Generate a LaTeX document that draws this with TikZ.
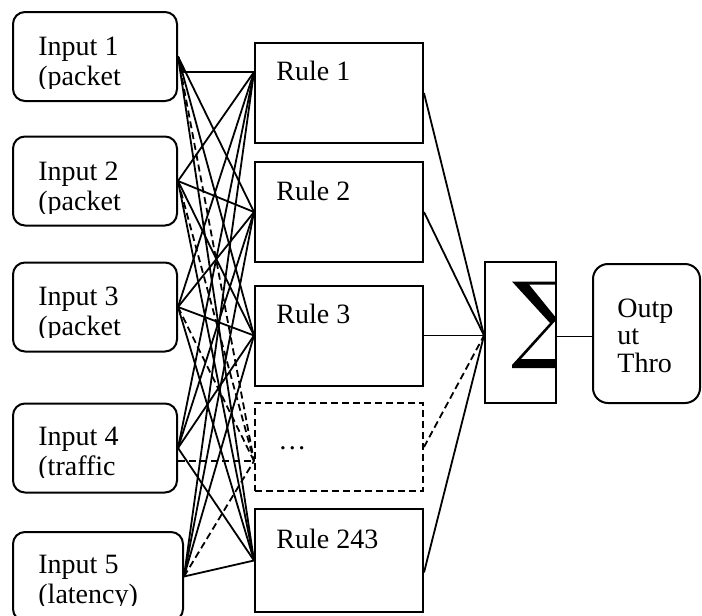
\documentclass[tikz,border=0pt]{standalone}
\usepackage{fontspec}
\setmainfont{Liberation Serif}
\begin{document}
\begin{tikzpicture}[
  x=0.5pt, y=-0.5pt,
  inbox/.style={draw, rounded corners=6pt, line width=1pt, minimum width=82pt, minimum height=44.5pt, inner sep=0pt},
  rulebox/.style={draw, line width=1pt, minimum width=84pt, minimum height=50pt, inner sep=0pt},
  txt/.style={anchor=base west, inner sep=0pt, align=left, font=\fontsize{14}{15}\selectfont},
  link/.style={line width=0.9pt},
  dashedlink/.style={dash pattern=on 3.5pt off 2pt}
]
\useasboundingbox (0,0) rectangle (702,616);

% inputs
\node[inbox] (in1) at (95,56.5) {};
\node[inbox] (in2) at (95,181) {};
\node[inbox] (in3) at (95,307) {};
\node[inbox] (in4) at (95,448) {};
\node[inbox, minimum width=85pt] (in5) at (98,576.5) {};

% text of the inputs is cut off at the bottom
\begin{scope}
  \clip (13,12) rectangle (177,88);
  \node[txt] (t1) at (38,85) {Input 1\\(packet};
\end{scope}
\begin{scope}
  \clip (13,137) rectangle (177,213);
  \node[txt] (t2) at (38,210) {Input 2\\(packet};
\end{scope}
\begin{scope}
  \clip (13,262) rectangle (177,337);
  \node[txt] (t3) at (38,335) {Input 3\\(packet};
\end{scope}
\begin{scope}
  \clip (13,403) rectangle (177,477);
  \node[txt] (t4) at (38,475) {Input 4\\(traffic};
\end{scope}
\begin{scope}
  \clip (13,532) rectangle (183,605);
  \node[txt] (t5) at (38,603) {Input 5\\(latency)};
\end{scope}

% rules
\node[rulebox] (r1) at (339,93) {};
\node[rulebox] (r2) at (339,212) {};
\node[rulebox] (r3) at (339,335.5) {};
\node[rulebox, dashedlink, minimum height=44pt] (rd) at (339,447) {};
\node[rulebox, minimum height=51.5pt] (r243) at (339,560.5) {};

\node[txt] (r1 text) at (276,80) {Rule 1};
\node[txt] (r2 text) at (276,200) {Rule 2};
\node[txt] (r3 text) at (276,323) {Rule 3};
\node[txt] (rd text) at (278,449) {\dots};
\node[txt] (r243 text) at (276,548) {Rule 243};

% sum and output
\begin{scope}
  \clip (485,262) rectangle (555,403);
  \fill (512,281.5) -- (557,281.5) -- (557,284.5) -- (529,284.5) -- (557,319)
    -- (521,359) -- (557,359) -- (557,368) -- (512,368) -- (512,365) -- (550,323) -- cycle;
\end{scope}
\node[draw, line width=1pt, minimum width=35.5pt, minimum height=70.5pt, inner sep=0pt] (sum) at (520.5,332.5) {};
\node[draw, rounded corners=7.5pt, line width=1pt, minimum width=53.5pt, minimum height=69.5pt, inner sep=0pt] (out) at (646.5,333.5) {};
\node[txt, font=\fontsize{14}{13.75}\selectfont] (out text) at (617,372) {Outp\\ut\\Thro};

\coordinate (r1 in) at ([yshift=10.5pt]r1.west);
\coordinate (rd in) at ([yshift=-7pt]rd.west);
\coordinate (r243 out) at ([yshift=-6pt]r243.east);
\coordinate (sum in) at ([yshift=-1.5pt]sum.west);
\coordinate (sum out) at ([yshift=-2pt]sum.east);
\coordinate (in4 low) at ([yshift=-6.5pt]in4.east);

\foreach \i in {2,...,5}
  \foreach \r in {r1 in, r2.west, r3.west, r243.west}
    \draw[link] (in\i.east) -- (\r);
\foreach \r in {r2.west, r3.west, r243.west}
  \draw[link] (in1.east) -- (\r);
\draw[link] (in1.east) -- ([xshift=-35pt]r1 in) -- (r1 in);
\foreach \i in {1,2,3,5}
  \draw[link, dashedlink] (in\i.east) -- (rd in);
\draw[link, dashedlink] (in4 low) -- (rd in);

\foreach \r in {r1.east, r2.east, r3.east, r243 out}
  \draw[link] (\r) -- (sum in);
\draw[link, dashedlink] (rd.east) -- (sum in);
\draw[link] (sum out) -- (sum out -| out.west);
\end{tikzpicture}
\end{document}
